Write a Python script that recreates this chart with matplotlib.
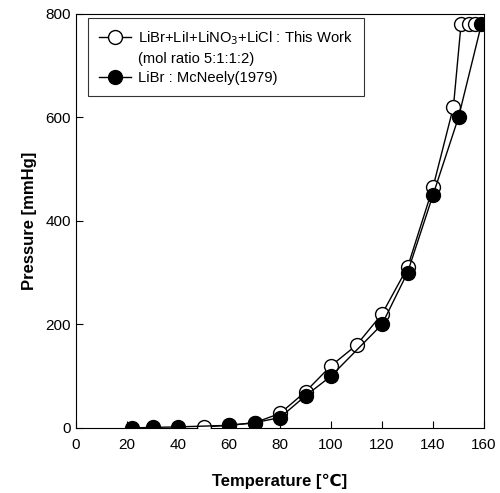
import matplotlib
matplotlib.use("Agg")
import matplotlib.pyplot as plt
from matplotlib.lines import Line2D

plt.rcParams['font.family'] = ['Liberation Sans', 'DejaVu Sans']

open_T = [50, 60, 70, 80, 90, 100, 110, 120, 130, 140, 148, 151, 154, 156.5]
open_P = [2, 5, 10, 28, 70, 120, 160, 220, 310, 465, 620, 780, 780, 780]
fill_T = [22, 30, 40, 60, 70, 80, 90, 100, 120, 130, 140, 150, 159]
fill_P = [0, 1, 2, 5, 10, 20, 62, 100, 200, 300, 450, 600, 780]

xticks = [0, 20, 40, 60, 80, 100, 120, 140, 160]
yticks = [0, 200, 400, 600, 800]

labels = ['LiBr+LiI+LiNO$_3$+LiCl : This Work', '(mol ratio 5:1:1:2)',
          'LiBr : McNeely(1979)']

fig = plt.figure(figsize=(5, 4.93), dpi=100)
ax = fig.add_axes([0.152, 0.132, 0.816, 0.840])

h1, = ax.plot(open_T, open_P, '-', color='black', lw=1.0, marker='o', ms=10,
              mfc='white', mec='black', mew=1.0, zorder=3)
h2, = ax.plot(fill_T, fill_P, '-', color='black', lw=1.0, marker='o', ms=10,
              mfc='black', mec='black', zorder=4)
blank = Line2D([], [], linestyle='none', marker=None)

ax.set_xlim(0, 160)
ax.set_ylim(0, 800)
ax.set_xticks(xticks)
ax.set_yticks(yticks)
ax.tick_params(direction='in', length=5, labelsize=11)
ax.tick_params(axis='x', pad=7)
ax.set_xlabel('Temperature [℃]', fontsize=12, fontweight='bold', labelpad=16)
ax.set_ylabel('Pressure [mmHg]', fontsize=12, fontweight='bold', labelpad=6)

leg = ax.legend([h1, blank, h2], labels, loc='upper left',
                bbox_to_anchor=(0.176, 0.9635), bbox_transform=fig.transFigure,
                borderaxespad=0, fontsize=10.6,
                frameon=True, fancybox=False, edgecolor='black',
                handlelength=2.2, handletextpad=0.45,
                borderpad=0.75, labelspacing=0.35)
leg.get_frame().set_linewidth(0.8)

fig.savefig('out.png', dpi=100)
